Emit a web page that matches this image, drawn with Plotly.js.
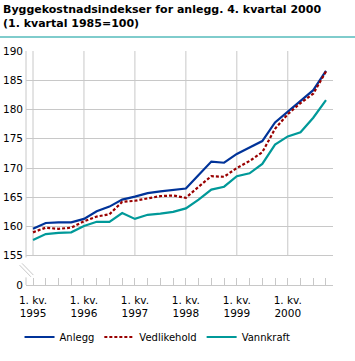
<!DOCTYPE html>
<html>
<head>
<meta charset="utf-8">
<script src="https://cdn.plot.ly/plotly-3.0.1.min.js"></script>
<style>html,body{margin:0;padding:0;background:#fff;}#chart{width:355px;height:361px;}</style>
</head>
<body>
<div id="chart"></div>
<script>
// Quarters 1995 Q1 .. 2000 Q4 (index positions)
const quarters = Array.from({length: 24}, (_, i) => i);
const yearTickPos = [0, 4, 8, 12, 16, 20];
const yearTickText = ["1. kv.<br>1995", "1. kv.<br>1996", "1. kv.<br>1997", "1. kv.<br>1998", "1. kv.<br>1999", "1. kv.<br>2000"];

const anlegg = [159.6,160.6,160.7,160.7,161.3,162.6,163.4,164.6,165.1,165.7,166.0,166.2,166.5,168.8,171.1,170.9,172.4,173.5,174.6,177.8,179.6,181.5,183.3,186.6];
const vedlikehold = [159.0,159.8,159.6,159.8,160.9,161.7,162.1,164.2,164.4,164.8,165.2,165.3,164.9,166.8,168.6,168.5,170.0,171.2,172.7,176.7,179.2,181.1,182.7,186.5];
const vannkraft = [157.7,158.7,158.9,159.0,160.1,160.8,160.8,162.3,161.3,162.0,162.2,162.5,163.1,164.6,166.3,166.8,168.6,169.1,170.7,174.0,175.4,176.1,178.6,181.6];

const yTickVals = [150, 155, 160, 165, 170, 175, 180, 185, 190];
const yTickText = ["0", "155", "160", "165", "170", "175", "180", "185", "190"];

const titleText = 'Byggekostnadsindekser for anlegg. 4. kvartal 2000<br>(1. kvartal 1985=100)';

const gridCol = '#c8c8c8';
const font = 'DejaVu Sans, Verdana, sans-serif';

const traces = [
  {x: quarters, y: anlegg, name: 'Anlegg', type: 'scatter', mode: 'lines',
   line: {color: '#003399', width: 2.2}},
  {x: quarters, y: vedlikehold, name: 'Vedlikehold', type: 'scatter', mode: 'lines',
   line: {color: '#990000', width: 2.2, dash: '3px,2px'}},
  {x: quarters, y: vannkraft, name: 'Vannkraft', type: 'scatter', mode: 'lines',
   line: {color: '#009999', width: 2.2}}
];

const shapes = [];
// vertical year gridlines, only across the unbroken part of the axis
yearTickPos.forEach(v => shapes.push({type: 'line', xref: 'x', yref: 'y', x0: v, x1: v, y0: 155, y1: 190,
  line: {color: gridCol, width: 1}, layer: 'below'}));
// broken y-axis line
shapes.push({type: 'line', xref: 'paper', yref: 'y', x0: 0, x1: 0, y0: 154.7, y1: 190, line: {color: gridCol, width: 1}});
shapes.push({type: 'line', xref: 'paper', yref: 'y', x0: 0, x1: 0, y0: 150, y1: 151.3, line: {color: gridCol, width: 1}});
// break marks
shapes.push({type: 'line', xref: 'paper', yref: 'y', x0: -0.021, x1: 0.016, y0: 153.4, y1: 151.4, line: {color: gridCol, width: 1}});
shapes.push({type: 'line', xref: 'paper', yref: 'y', x0: -0.013, x1: 0.024, y0: 153.7, y1: 151.7, line: {color: gridCol, width: 1}});
// teal separator line under title
shapes.push({type: 'line', xref: 'paper', yref: 'paper', x0: -26/307, x1: 329/307, y0: (285-37)/234, y1: (285-37)/234,
  line: {color: '#009999', width: 1}});

const layout = {
  width: 355, height: 361,
  margin: {l: 26, r: 22, t: 51, b: 76},
  paper_bgcolor: '#ffffff', plot_bgcolor: '#ffffff',
  font: {family: font, size: 10.5, color: '#000'},
  annotations: [{text: titleText, xref: 'paper', yref: 'paper', x: -25/307, y: (285-1)/234,
    xanchor: 'left', yanchor: 'top', align: 'left', showarrow: false,
    font: {family: font, size: 11, color: '#000', weight: 'bold'}}],
  xaxis: {range: [-0.55, 23.55], tickmode: 'array', tickvals: yearTickPos, ticktext: yearTickText,
    showgrid: false, zeroline: false, showline: true, linecolor: gridCol, linewidth: 1,
    ticks: 'inside', ticklen: 7, tickcolor: gridCol, tickwidth: 1,
    tickfont: {family: font, size: 10.5, color: '#000'}, ticklabelstandoff: 5,
    minor: {tickmode: 'array', tickvals: quarters, ticks: 'inside', ticklen: 7, tickcolor: gridCol, tickwidth: 1, showgrid: false},
    fixedrange: true},
  yaxis: {range: [150, 190], tickmode: 'array', tickvals: yTickVals, ticktext: yTickText,
    showgrid: true, gridcolor: gridCol, gridwidth: 1, zeroline: false, showline: false,
    ticks: '', tickfont: {family: font, size: 10.5, color: '#000'}, ticklabelstandoff: 2,
    fixedrange: true},
  showlegend: true,
  legend: {orientation: 'h', xref: 'container', yref: 'container', x: 0.055, y: 1 - 337/361,
    xanchor: 'left', yanchor: 'middle', font: {family: font, size: 10, color: '#000'},
    bgcolor: 'rgba(0,0,0,0)', borderwidth: 0, tracegroupgap: 0},
  shapes: shapes
};

Plotly.newPlot('chart', traces, layout, {staticPlot: true, displayModeBar: false});
</script>
</body>
</html>
